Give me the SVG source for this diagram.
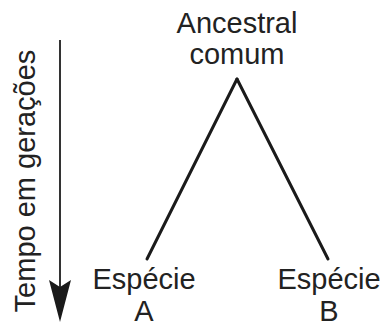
<svg xmlns="http://www.w3.org/2000/svg" width="385" height="326" viewBox="0 0 385 326">
  <style>
    text { font-family: "Liberation Sans", Arial, sans-serif; font-size: 29px; fill: #222; text-anchor: middle; }
    .branch { fill: none; stroke: #1a1a1a; stroke-width: 3; stroke-linecap: round; }
    .axis { fill: none; stroke: #333; stroke-width: 2; }
  </style>
  <rect width="385" height="326" fill="#fff"/>

  <!-- time axis -->
  <g id="time-axis">
    <line class="axis" x1="60" y1="40" x2="60" y2="290"/>
    <path d="M49,280 L60,287 L71,280 L60,322 Z" fill="#1a1a1a"/>
    <text transform="translate(35,181) rotate(-90)">Tempo em gerações</text>
  </g>

  <!-- branches -->
  <g id="connectors">
    <line class="branch" x1="237" y1="79" x2="147" y2="259"/>
    <line class="branch" x1="237" y1="79" x2="328" y2="259"/>
  </g>

  <g id="ancestor">
    <text x="237" y="33">Ancestral</text>
    <text x="237" y="64">comum</text>
  </g>

  <g id="species-a">
    <text x="144" y="289">Espécie</text>
    <text x="144" y="321">A</text>
  </g>

  <g id="species-b">
    <text x="329" y="289">Espécie</text>
    <text x="329" y="321">B</text>
  </g>
</svg>
